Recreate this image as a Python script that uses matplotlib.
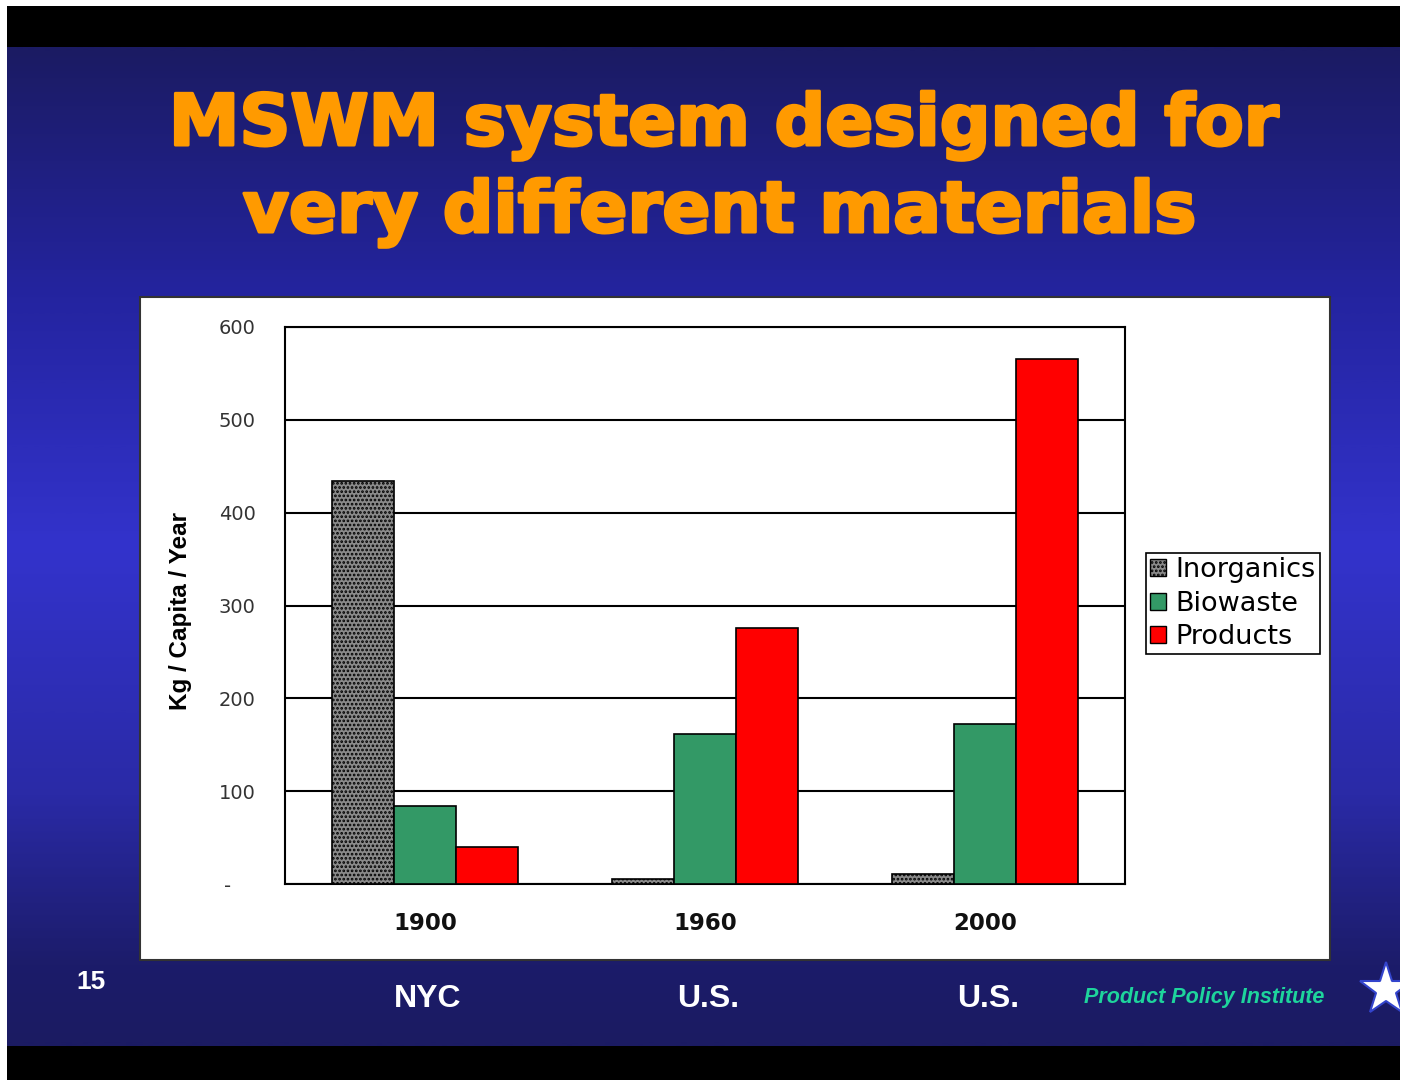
import numpy as np
import matplotlib
matplotlib.use("Agg")
import matplotlib.pyplot as plt
from matplotlib.patches import Rectangle, Patch
from matplotlib.colors import LinearSegmentedColormap
import matplotlib.transforms as mtransforms
import matplotlib.patheffects as pe

# ---- data ----
categories = ["1900", "1960", "2000"]
regions = ["NYC", "U.S.", "U.S."]
series_names = ["Inorganics", "Biowaste", "Products"]
inorganics = [434, 5, 11]
biowaste = [84, 162, 172]
products = [40, 276, 566]
y_ticks = [0, 100, 200, 300, 400, 500, 600]
y_tick_labels = ["-    ", "100", "200", "300", "400", "500", "600"]
title_lines = ["MSWM system designed for", "very different materials"]
y_label = "Kg / Capita / Year"
slide_number = "15"
footer_text = "Product Policy Institute"

W, H = 1404, 1080
fig = plt.figure(figsize=(W / 100, H / 100), dpi=100, facecolor="white")

# background axes in pixel coordinates
bg = fig.add_axes([0, 0, 1, 1], zorder=0)
bg.axis("off")

# slide: black bands + blue gradient
bg.add_patch(Rectangle((7, 6), 1393, 41, facecolor="black", edgecolor="none"))
bg.add_patch(Rectangle((7, 1046), 1393, 34, facecolor="black", edgecolor="none"))
cmap = LinearSegmentedColormap.from_list(
    "slide",
    [(0.0, "#1b1b63"), (0.25, "#2424a0"), (0.5, "#3333cc"), (0.75, "#2a2aa6"), (0.92, "#1c1c6a"), (1.0, "#1b1b62")],
)
grad = np.linspace(0, 1, 400).reshape(-1, 1)
bg.imshow(grad, cmap=cmap, aspect="auto", extent=(7, 1400, 1046, 47), interpolation="bilinear")
bg.set_xlim(0, W)
bg.set_ylim(H, 0)

# white chart panel
bg.add_patch(Rectangle((140, 297), 1190, 663, facecolor="white", edgecolor="#333333", linewidth=1.5))

# title
title_fx = [pe.withStroke(linewidth=2.2, foreground="#ff9a00")]
for (ty, tx), line in zip([(145, 724), (232, 720)], title_lines):
    bg.text(tx, ty, line, ha="center", va="baseline", color="#ff9a00",
            fontsize=51, fontweight="bold", family="DejaVu Sans", path_effects=title_fx)

# slide number and footer
bg.text(91, 982, slide_number, ha="center", va="center", color="white",
        fontsize=19, fontweight="bold", family="Liberation Sans")
bg.text(1204, 998, footer_text, ha="center", va="center", color="#1ed49c",
        fontsize=15.5, fontweight="bold", style="italic", family="Liberation Sans")
bg.plot([1386], [990], marker="*", markersize=40, color="white",
        markeredgecolor="#3344cc", markeredgewidth=1.5)
bg.add_patch(Rectangle((1400, 0), 4, H, facecolor="white", edgecolor="none", zorder=10))

# ---- chart axes ----
ax = fig.add_axes([285 / W, 1 - 884 / H, 840 / W, 557 / H], zorder=2)
ax.set_facecolor("white")
x = np.arange(len(categories))
bw = 0.222
plt.rcParams["hatch.linewidth"] = 1.3
ax.bar(x - bw, inorganics, bw, facecolor="#8a8a8a", edgecolor="black", linewidth=1.2,
       hatch="....", zorder=3, label=series_names[0])
ax.bar(x, biowaste, bw, facecolor="#339966", edgecolor="black", linewidth=1.2,
       zorder=3, label=series_names[1])
ax.bar(x + bw, products, bw, facecolor="#ff0000", edgecolor="black", linewidth=1.2,
       zorder=3, label=series_names[2])

ax.set_xlim(-0.5, len(categories) - 0.5)
ax.set_ylim(0, 600)
ax.set_yticks(y_ticks)
ax.set_yticklabels(y_tick_labels, family="DejaVu Sans", fontsize=14, color="#333333")
ax.set_xticks(x)
ax.set_xticklabels(categories, family="DejaVu Sans", fontsize=16.5, fontweight="bold", color="#111111")
ax.tick_params(axis="y", length=0, pad=21)
ax.tick_params(axis="x", length=0, pad=20)
ax.grid(axis="y", color="black", linewidth=1.5, zorder=1)
ax.set_axisbelow(True)
for s in ax.spines.values():
    s.set_color("black")
    s.set_linewidth(1.5)
ax.set_ylabel(y_label, family="Liberation Sans", fontsize=17.5, fontweight="bold", color="black")
ax.yaxis.set_label_coords(-0.111, 0.49)

# region labels below the panel
trans = mtransforms.blended_transform_factory(ax.transData, bg.transData)
for xi, r in zip(x, regions):
    ax.text(xi + 0.01, 999, r, transform=trans, ha="center", va="center", color="white",
            fontsize=23, fontweight="bold", family="Liberation Sans", clip_on=False)

# legend
handles = [Patch(facecolor="#8a8a8a", edgecolor="black", hatch="...."),
           Patch(facecolor="#339966", edgecolor="black"),
           Patch(facecolor="#ff0000", edgecolor="black")]
leg = fig.legend(handles, series_names, loc="upper left",
                 bbox_to_anchor=(1146 / W, 1 - 553 / H), bbox_transform=fig.transFigure,
                 borderaxespad=0, fancybox=False, frameon=True, framealpha=1,
                 prop={"family": "DejaVu Sans", "size": 19.5},
                 handlelength=0.6, handleheight=0.6, handletextpad=0.35,
                 labelspacing=0.28, borderpad=0.15)
leg.get_frame().set_edgecolor("black")
leg.get_frame().set_linewidth(1.2)
leg.set_zorder(5)

fig.savefig("out.png", dpi=100, facecolor="white")
